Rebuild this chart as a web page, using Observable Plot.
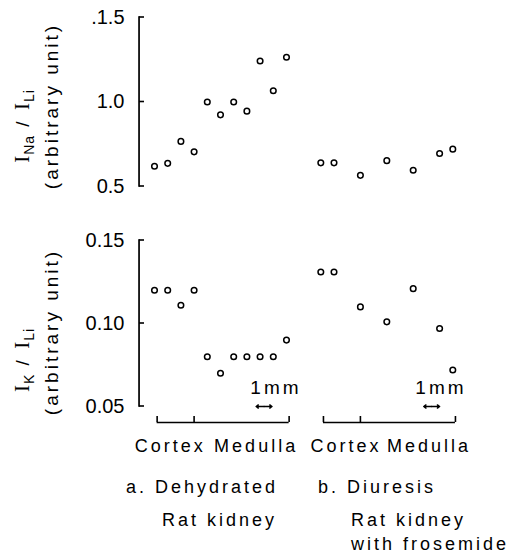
<!DOCTYPE html>
<html><head><meta charset="utf-8">
<script src="https://cdn.jsdelivr.net/npm/d3@7"></script>
<script src="https://cdn.jsdelivr.net/npm/@observablehq/plot@0.6"></script>
<style>
body{margin:0;background:#fff;}
#fig{position:relative;width:529px;height:557px;overflow:hidden;font-family:"Liberation Sans",Arial,sans-serif;color:#000;background:#fff;}
#fig svg{position:absolute;left:0;overflow:visible;}
.cap{position:absolute;white-space:nowrap;font-size:18px;letter-spacing:3px;line-height:1;}
.ylab{position:absolute;white-space:nowrap;transform:translate(-50%,-50%) rotate(-90deg);font-size:19px;letter-spacing:3px;line-height:1;}
.ser{font-family:"Liberation Serif",serif;font-size:21px;letter-spacing:1px;}
.sb{font-size:14px;position:relative;top:5px;letter-spacing:1px;}
</style></head><body><div id="fig"></div>
<script>
// ---- data ----
const posA = [0,1,2,3,4,5,6,7,8,9,10];          // sample positions, group a (mm)
const posB = [0,1,3,5,7,9,10];                   // sample positions, group b (mm)
const groupStart = {a: 0, b: 12.6};              // x origin of each kidney
const naA = [0.62,0.637,0.767,0.705,1.0,0.924,1.0,0.946,1.243,1.067,1.265];
const naB = [0.64,0.64,0.566,0.653,0.596,0.695,0.721];
const kA  = [0.12,0.12,0.111,0.12,0.08,0.07,0.08,0.08,0.08,0.08,0.09];
const kB  = [0.131,0.131,0.11,0.101,0.121,0.097,0.072];
const naTicks = [0.5,1.0,1.5];
const naTickLabels = ["0.5","1.0",".1.5"];
const kTicks = [0.05,0.10,0.15];
const kTickLabels = ["0.05","0.10","0.15"];
const groups = ["a","b"];
const bracketStart = 0.2, bracketEnd = 10.2, boundary = 3;   // cortex|medulla boundary per kidney (mm)
const zoneNames = ["Cortex","Medulla"];
const zoneCenters = {a:[1.2,7.7], b:[1.9,8.2]};
const scaleBar = {a:[7.7,8.9], b:[7.8,9.0]};     // 1 mm arrows
const scaleLabel = {a:9.2, b:9.1};

const rows = (pos, vals, g) => pos.map((p,i)=>({x: groupStart[g]+p, v: vals[i]}));
const naData = [...rows(posA,naA,"a"), ...rows(posB,naB,"b")];
const kData  = [...rows(posA,kA,"a"),  ...rows(posB,kB,"b")];
const brackets = groups.map(g=>({x1: groupStart[g]+bracketStart, x2: groupStart[g]+bracketEnd}));
const bracketTicks = groups.flatMap(g=>[bracketStart,boundary,bracketEnd].map(p=>groupStart[g]+p));
const zoneLabels = groups.flatMap(g=>zoneNames.map((n,i)=>({x: groupStart[g]+zoneCenters[g][i], name:n})));
const bars = groups.map(g=>{ const [a,b] = scaleBar[g];
  return {x1: groupStart[g]+a, x2: groupStart[g]+b, mid: groupStart[g]+(a+b)/2, lx: groupStart[g]+scaleLabel[g]}; });

const W = 529, ML = 139;
const xOpt = {domain:[0,22.6], range:[154,452.3], axis:null};
const font = "'Liberation Sans', Arial, sans-serif";

function panel({data, ticks, labels, height, mt, mb, extra}) {
  const frameH = height - mt - mb;
  return Plot.plot({
    width: W, height, marginLeft: ML, marginRight: 0, marginTop: mt, marginBottom: mb,
    x: xOpt, y: {domain: [ticks[0], ticks[ticks.length-1]]},
    style: {fontFamily: font, fontSize: "20px", background: "transparent", color: "#000"},
    marks: [
      Plot.axisY({ticks, tickSize: 0, tickPadding: 15, fontSize: 20, label: null, tickFormat: d => labels[ticks.indexOf(d)]}),
      Plot.dot(data, {x: "x", y: "v", r: 2.8, stroke: "#000", strokeWidth: 1.5, fill: "white"}),
      ...(extra ? extra(frameH, ticks) : [])
    ]
  });
}

const topPlot = panel({data: naData, ticks: naTicks, labels: naTickLabels, height: 205, mt: 17, mb: 19});
const botPlot = panel({data: kData, ticks: kTicks, labels: kTickLabels, height: 260, mt: 35, mb: 59,
  extra: (frameH, ticks) => [
    Plot.text(bars, {x: "lx", text: () => "1mm", frameAnchor: "bottom", dy: -13, fontSize: 19, fill: "#000"}),
    Plot.arrow(bars, {x1: "mid", x2: "x1", y1: () => ticks[0], y2: () => ticks[0], stroke: "#000", strokeWidth: 1.5, headLength: 5, headAngle: 70}),
    Plot.arrow(bars, {x1: "mid", x2: "x2", y1: () => ticks[0], y2: () => ticks[0], stroke: "#000", strokeWidth: 1.5, headLength: 5, headAngle: 70}),
    Plot.ruleY(brackets, {x1: "x1", x2: "x2", y: () => ticks[0], dy: 16, stroke: "#000", strokeWidth: 1.6}),
    Plot.tickX(bracketTicks, {x: d=>d, insetTop: frameH - 6, dy: 16, stroke: "#000", strokeWidth: 1.6}),
    Plot.text(zoneLabels, {x: "x", text: "name", frameAnchor: "bottom", dy: 45, fontSize: 18, fill: "#000"})
  ]});

const fig = document.getElementById("fig");
topPlot.style.top = "0px";
botPlot.style.top = "205px";
fig.appendChild(topPlot);
fig.appendChild(botPlot);
botPlot.querySelectorAll('g[aria-label="text"]').forEach(g => g.setAttribute("letter-spacing", "3px"));

// axis titles (rotated) and captions
const html = [
  ['ylab', 51, 106, '(arbitrary unit)'],
  ['ylab', 22, 126, '<span class="ser">I</span><span class="sb">Na</span> / <span class="ser">I</span><span class="sb">Li</span>'],
  ['ylab', 51, 332, '(arbitrary unit)'],
  ['ylab', 22, 360, '<span class="ser">I</span><span class="sb">K</span> / <span class="ser">I</span><span class="sb">Li</span>'],
];
for (const [cls, x, y, t] of html) {
  const d = document.createElement("div");
  d.className = cls; d.style.left = x + "px"; d.style.top = y + "px"; d.innerHTML = t;
  fig.appendChild(d);
}
const captions = [
  [126, 478, "a. Dehydrated"], [162, 511, "Rat kidney"],
  [318, 478, "b. Diuresis"], [351, 511, "Rat kidney"], [351, 535, "with frosemide"]
];
for (const [x, y, t] of captions) {
  const d = document.createElement("div");
  d.className = "cap"; d.style.left = x + "px"; d.style.top = y + "px"; d.textContent = t;
  fig.appendChild(d);
}

// y-axis lines with inward ticks, drawn as filled bars through each plot's own y scale
const overlay = d3.select(fig).append("svg").attr("width", W).attr("height", 557)
  .style("top", "0px").style("pointer-events", "none");
function axisBars(y, ticks, offset) {
  const g = overlay.append("g").attr("fill", "#000");
  const yTop = offset + y.apply(ticks[ticks.length-1]), yBot = offset + y.apply(ticks[0]);
  g.append("rect").attr("x", ML - 0.8).attr("y", yTop - 0.8).attr("width", 1.7).attr("height", yBot - yTop + 1.6);
  for (const t of ticks) g.append("rect").attr("x", ML).attr("y", offset + y.apply(t) - 0.8).attr("width", 5).attr("height", 1.6);
}
axisBars(topPlot.scale("y"), naTicks, 0);
axisBars(botPlot.scale("y"), kTicks, 205);
</script></body></html>
